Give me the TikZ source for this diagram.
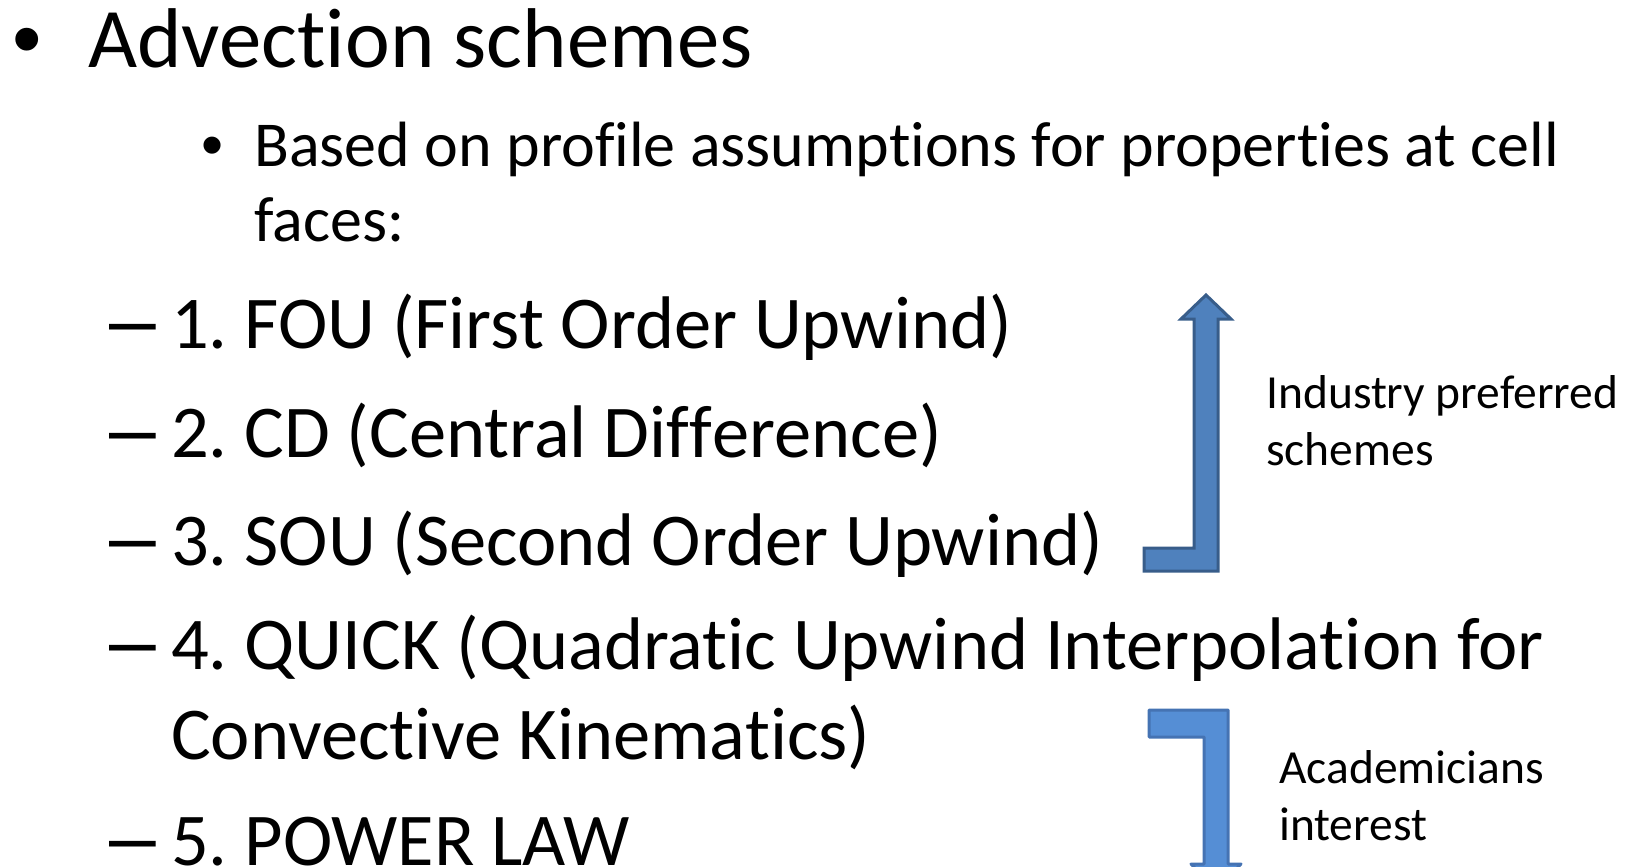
\documentclass[tikz,border=0pt]{standalone}
\usepackage{fontspec}
\setmainfont{Carlito}[Ligatures={CommonOff,ContextualOff}]
\newfontfamily\bulfont{Liberation Sans}
\frenchspacing
\newcommand\brk{\kern0pt }
\definecolor{arrowfill}{HTML}{4F81BD}
\definecolor{arrowline}{HTML}{385D8A}
\definecolor{arrowfillb}{HTML}{558ED5}
\definecolor{arrowlineb}{HTML}{4573B3}
\tikzset{
  txt/.style={inner sep=0pt, anchor=base west},
  head/.style={txt, font=\fontsize{84.8}{100}\selectfont},
  sub/.style={txt, font=\fontsize{64}{75}\selectfont},
  item/.style={txt, font=\fontsize{74.5}{88}\selectfont},
  lab/.style={txt, font=\fontsize{47.5}{57}\selectfont},
  bigbul/.style={txt, font=\bulfont\fontsize{84}{100}\selectfont},
  smallbul/.style={txt, font=\bulfont\fontsize{63}{75}\selectfont},
  dashmark/.style={txt, font=\bulfont\fontsize{84}{100}\selectfont},
  upbent/.style={fill=arrowfill, draw=arrowline, line width=3pt, line join=miter},
  downbent/.style={fill=arrowfillb, draw=arrowlineb, line width=3pt, line join=round},
}
\begin{document}
\begin{tikzpicture}[x=1pt, y=-1pt]
\useasboundingbox (0,0) rectangle (1627,867);
\clip (0,0) rectangle (1627,867);
% heading
\node[bigbul] (b0) at (12,67) {•};
\node[head] (h) at (88,67) {Advect\brk ion schemes};
% sub bullet
\node[smallbul] (b1) at (201,166) {•};
\node[sub] (s1) at (254,166) {Based on prof\brk ile assumpt\brk ions for propert\brk ies at cell};
\node[sub] (s2) at (254,241) {faces:};
% items
\node[dashmark] (d1) at (109,348) {–};
\node[item] (i1) at (171,348) {1. FOU (First Order Upwind)};
\node[dashmark] (d2) at (109,457) {–};
\node[item] (i2) at (171,457) {2. CD (Central Dif\brk f\brk erence)};
\node[dashmark] (d3) at (109,565) {–};
\node[item] (i3) at (171,565) {3. SOU (Second Order Upwind)};
\node[dashmark] (d4) at (109,669) {–};
\node[item] (i4) at (171,669) {4. QUICK (Quadrat\brk ic Upwind Interpolat\brk ion for};
\node[item] (i4b) at (171,759) {Convect\brk ive Kinemat\brk ics)};
\node[dashmark] (d5) at (109,865) {–};
\node[item] (i5) at (171,865) {5. POWER LAW};
% arrows
\draw[upbent] (1206,295) -- (1231,319) -- (1218,319) -- (1218,571) -- (1144,571)
  -- (1144,548) -- (1194,548) -- (1194,319) -- (1181,319) -- cycle;
\draw[downbent] (1149,710) -- (1228,710) -- (1228,864) -- (1241,864) -- (1216,890)
  -- (1191,864) -- (1204,864) -- (1204,737) -- (1149,737) -- cycle;
% labels
\node[lab] (l1) at (1266,408) {Industry preferred};
\node[lab] (l2) at (1266,465) {schemes};
\node[lab] (l3) at (1279,783) {Academicians};
\node[lab] (l4) at (1279,840) {interest};
\end{tikzpicture}
\end{document}
